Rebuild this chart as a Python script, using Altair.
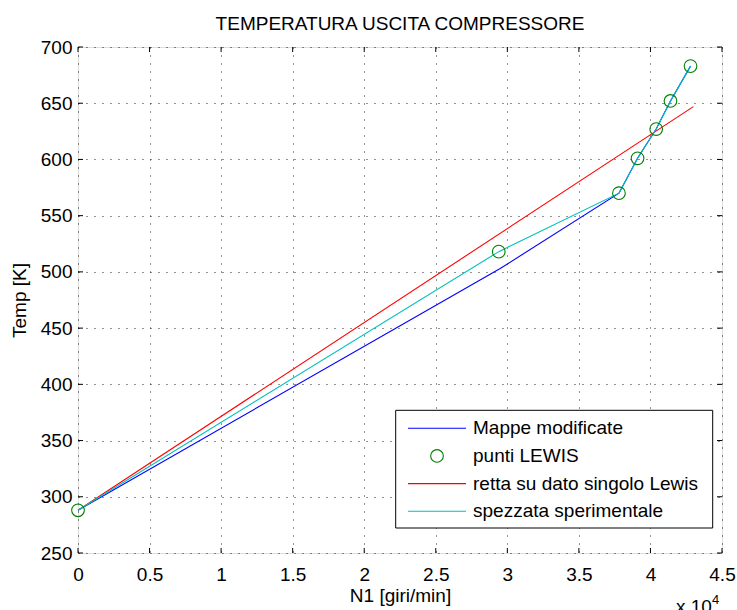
import altair as alt
import pandas as pd

SERIES = ["Mappe modificate", "punti LEWIS", "retta su dato singolo Lewis", "spezzata sperimentale"]
COLORS = ["#0000ff", "#008000", "#ff0000", "#00bfbf"]

n1_mappe = [0, 29500, 37800, 39100, 40400, 41400, 42800]
t_mappe = [288, 503, 570, 601, 627, 652, 683]

n1_lewis = [0, 29400, 37800, 39100, 40400, 41400, 42800]
t_lewis = [288, 518, 570, 601, 627, 652, 683]

n1_retta = [0, 43000]
t_retta = [288, 647]

n1_spezzata = [0, 29400, 37800, 39100, 40400, 41400, 42800]
t_spezzata = [288, 518, 570, 601, 627, 652, 683]

x_ticks = [0, 5000, 10000, 15000, 20000, 25000, 30000, 35000, 40000, 45000]
y_ticks = [250, 300, 350, 400, 450, 500, 550, 600, 650, 700]

FONT = "Liberation Sans"
FS = 19
W, H = 644, 506

lines_df = pd.concat([
    pd.DataFrame({"series": SERIES[0], "n1": n1_mappe, "t": t_mappe, "o": range(len(n1_mappe))}),
    pd.DataFrame({"series": SERIES[2], "n1": n1_retta, "t": t_retta, "o": range(len(n1_retta))}),
    pd.DataFrame({"series": SERIES[3], "n1": n1_spezzata, "t": t_spezzata, "o": range(len(n1_spezzata))}),
], ignore_index=True)
pts_df = pd.DataFrame({"series": SERIES[1], "n1": n1_lewis, "t": t_lewis})
xt_df = pd.DataFrame({"v": x_ticks})
yt_df = pd.DataFrame({"v": y_ticks})
leg_df = pd.DataFrame({"series": SERIES, "kind": ["line", "point", "line", "line"]})

xscale = alt.Scale(domain=[0, 45000], nice=False, zero=False)
yscale = alt.Scale(domain=[250, 700], nice=False, zero=False)
cscale = alt.Scale(domain=SERIES, range=COLORS)

xaxis = alt.Axis(values=x_ticks, labelExpr="'' + datum.value / 10000", title="N1 [giri/min]",
                 grid=True, ticks=False, domain=False, labelPadding=12, titlePadding=2,
                 labelFontSize=FS, titleFontSize=FS, labelFont=FONT, titleFont=FONT,
                 titleFontWeight="normal", labelColor="black", titleColor="black",
                 gridColor="#000000", gridDash=[1, 7], gridOpacity=0.85, labelFlush=False,
                 labelOverlap=False)
yaxis = alt.Axis(values=y_ticks, title="Temp [K]", grid=True, ticks=False, domain=False,
                 labelPadding=6, titlePadding=11,
                 labelFontSize=FS, titleFontSize=FS, labelFont=FONT, titleFont=FONT,
                 titleFontWeight="normal", labelColor="black", titleColor="black",
                 gridColor="#000000", gridDash=[1, 7], gridOpacity=0.85, labelFlush=False,
                 labelOverlap=False)

lines = alt.Chart(lines_df).mark_line(strokeWidth=1.1).encode(
    x=alt.X("n1:Q", scale=xscale, axis=xaxis),
    y=alt.Y("t:Q", scale=yscale, axis=yaxis),
    color=alt.Color("series:N", scale=cscale, legend=None),
    order="o:O",
)

points = alt.Chart(pts_df).mark_point(filled=False, strokeWidth=1.1, opacity=1, size=160, shape="circle").encode(
    x=alt.X("n1:Q", scale=xscale),
    y=alt.Y("t:Q", scale=yscale),
    color=alt.Color("series:N", scale=cscale, legend=None),
)

tb = alt.Chart(xt_df).mark_rule(color="black", strokeWidth=1).encode(
    x=alt.X("v:Q", scale=xscale), y=alt.value(H), y2=alt.value(H - 5))
tt = alt.Chart(xt_df).mark_rule(color="black", strokeWidth=1).encode(
    x=alt.X("v:Q", scale=xscale), y=alt.value(0), y2=alt.value(5))
tl = alt.Chart(yt_df).mark_rule(color="black", strokeWidth=1).encode(
    y=alt.Y("v:Q", scale=yscale), x=alt.value(0), x2=alt.value(5))
tr = alt.Chart(yt_df).mark_rule(color="black", strokeWidth=1).encode(
    y=alt.Y("v:Q", scale=yscale), x=alt.value(W), x2=alt.value(W - 5))

one = pd.DataFrame({"a": [0]})
exp_base = alt.Chart(one).mark_text(font=FONT, fontSize=FS, color="black", align="left",
                                    baseline="alphabetic").encode(
    x=alt.value(598), y=alt.value(566), text=alt.value("x 10"))
exp_sup = alt.Chart(one).mark_text(font=FONT, fontSize=13, color="black", align="left",
                                   baseline="alphabetic").encode(
    x=alt.value(634), y=alt.value(557), text=alt.value("4"))

main = alt.layer(tb, tt, tl, tr, lines, points, exp_base, exp_sup)

# legend box (decoration)
ly = alt.Scale(type="point", domain=SERIES, range=[381.3, 464.3], padding=0)
leg_box = alt.Chart(one).mark_rect(fill="white", stroke="black", strokeWidth=1).encode(
    x=alt.value(317.7), x2=alt.value(634.7), y=alt.value(363.3), y2=alt.value(481))
leg_lines = alt.Chart(leg_df).transform_filter("datum.kind == 'line'").mark_rule(strokeWidth=1.1).encode(
    y=alt.Y("series:N", scale=ly, axis=None),
    x=alt.value(330), x2=alt.value(388),
    color=alt.Color("series:N", scale=cscale, legend=None),
)
leg_pts = alt.Chart(leg_df).transform_filter("datum.kind == 'point'").mark_point(
    filled=False, strokeWidth=1.1, opacity=1, size=160, shape="circle").encode(
    y=alt.Y("series:N", scale=ly, axis=None),
    x=alt.value(359),
    color=alt.Color("series:N", scale=cscale, legend=None),
)
leg_text = alt.Chart(leg_df).mark_text(font=FONT, fontSize=FS, color="black", align="left",
                                       baseline="middle").encode(
    y=alt.Y("series:N", scale=ly, axis=None),
    x=alt.value(395),
    text="series:N",
)
legend = alt.layer(leg_box, leg_lines, leg_pts, leg_text)

chart = alt.layer(main, legend).resolve_scale(y="independent").properties(
    width=W, height=H,
    title=alt.TitleParams("TEMPERATURA USCITA COMPRESSORE", font=FONT, fontSize=FS,
                          fontWeight="normal", color="black", anchor="middle", offset=4),
    autosize=alt.AutoSizeParams(type="none"),
    padding={"left": 78, "top": 47, "right": 15, "bottom": 57},
).configure_view(stroke="black", strokeWidth=1).configure(background="white")

chart.save("out.html", embed_options={"renderer": "svg", "actions": False})
